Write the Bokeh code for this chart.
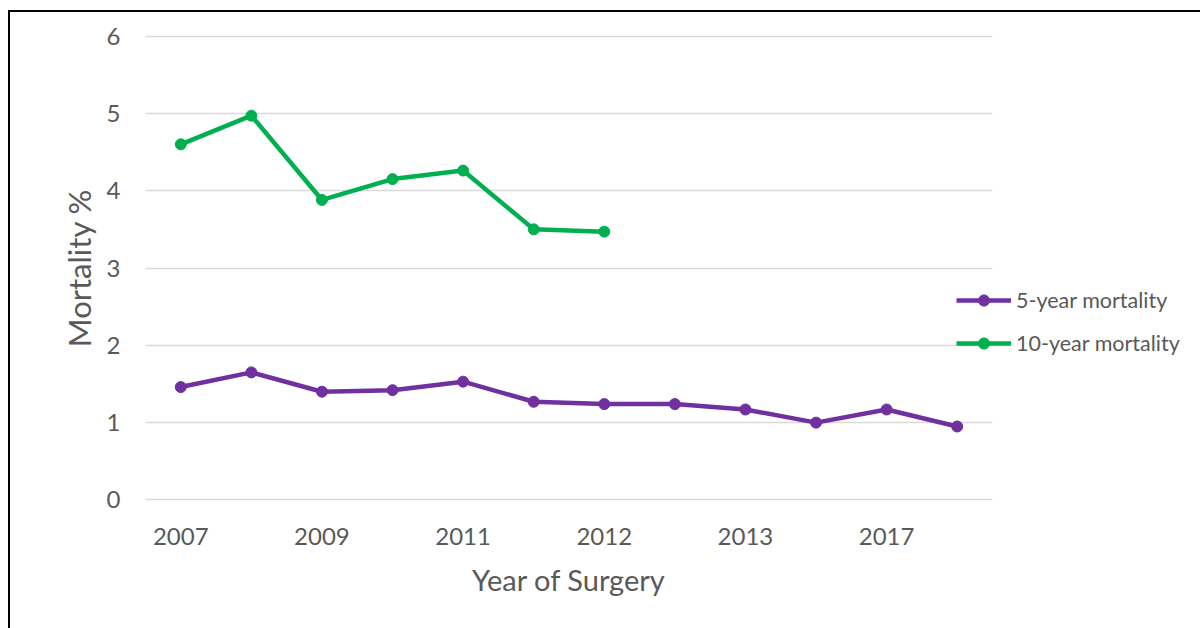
from bokeh.plotting import figure
from bokeh.models import FixedTicker, Legend, LegendItem, Range1d
from bokeh.embed import file_html
from bokeh.resources import INLINE

# Mortality by year of surgery (12 consecutive cohorts, every other one labelled)
tick_positions = [0, 2, 4, 6, 8, 10]
tick_labels = ["2007", "2009", "2011", "2012", "2013", "2017"]
five_year = [1.46, 1.65, 1.40, 1.42, 1.53, 1.27, 1.24, 1.24, 1.17, 1.00, 1.17, 0.95]
ten_year = [4.60, 4.97, 3.88, 4.15, 4.26, 3.50, 3.47]
five_x = list(range(len(five_year)))
ten_x = list(range(len(ten_year)))

PURPLE = "#7030A0"
GREEN = "#00B050"
TEXT = "#595959"
FONT = "Lato"

p = figure(
    frame_width=847, frame_height=467,
    min_border_left=135, min_border_top=22, min_border_right=208, min_border_bottom=127,
    x_range=Range1d(-0.5, 11.5), y_range=Range1d(-0.02, 6.02),
    output_backend="svg", toolbar_location=None,
    styles={"margin-left": "8px", "margin-top": "10px",
            "border-left": "2px solid #000", "border-top": "2px solid #000"},
)
p.outline_line_color = None
p.background_fill_color = "white"
p.border_fill_color = "white"

p.xgrid.grid_line_color = None
p.ygrid.grid_line_color = "#D9D9D9"
p.ygrid.grid_line_width = 1.5
p.yaxis.ticker = FixedTicker(ticks=[0, 1, 2, 3, 4, 5, 6])
p.xaxis.ticker = FixedTicker(ticks=tick_positions)
p.xaxis.major_label_overrides = {t: l for t, l in zip(tick_positions, tick_labels)}

for ax in (p.xaxis, p.yaxis):
    ax.axis_line_color = None
    ax.major_tick_line_color = None
    ax.minor_tick_line_color = None
    ax.major_label_text_font = FONT
    ax.major_label_text_font_size = "24px"
    ax.major_label_text_color = TEXT
    ax.axis_label_text_font = FONT
    ax.axis_label_text_font_style = "normal"
    ax.axis_label_text_color = TEXT

p.xaxis.axis_label = "Year of Surgery"
p.yaxis.axis_label = "Mortality %"
p.xaxis.axis_label_text_font_size = "29px"
p.yaxis.axis_label_text_font_size = "31px"
p.xaxis.major_label_standoff = 20
p.yaxis.major_label_standoff = 19
p.xaxis.axis_label_standoff = 14
p.yaxis.axis_label_standoff = 6

l5 = p.line(five_x, five_year, line_color=PURPLE, line_width=4.5)
m5 = p.scatter(five_x, five_year, size=11, fill_color=PURPLE, line_color=PURPLE)
l10 = p.line(ten_x, ten_year, line_color=GREEN, line_width=4.5)
m10 = p.scatter(ten_x, ten_year, size=11, fill_color=GREEN, line_color=GREEN)

legend = Legend(
    items=[LegendItem(label="5-year mortality", renderers=[l5, m5]),
           LegendItem(label="10-year mortality", renderers=[l10, m10])],
    location=(-36, 144),
    padding=0, margin=0, spacing=15,
    glyph_width=55, glyph_height=28, label_height=28, label_standoff=5,
    label_text_font=FONT, label_text_font_size="21.5px", label_text_color=TEXT,
    background_fill_alpha=0, border_line_color=None,
)
p.add_layout(legend, "right")

open("out.html", "w").write(file_html(p, INLINE))
